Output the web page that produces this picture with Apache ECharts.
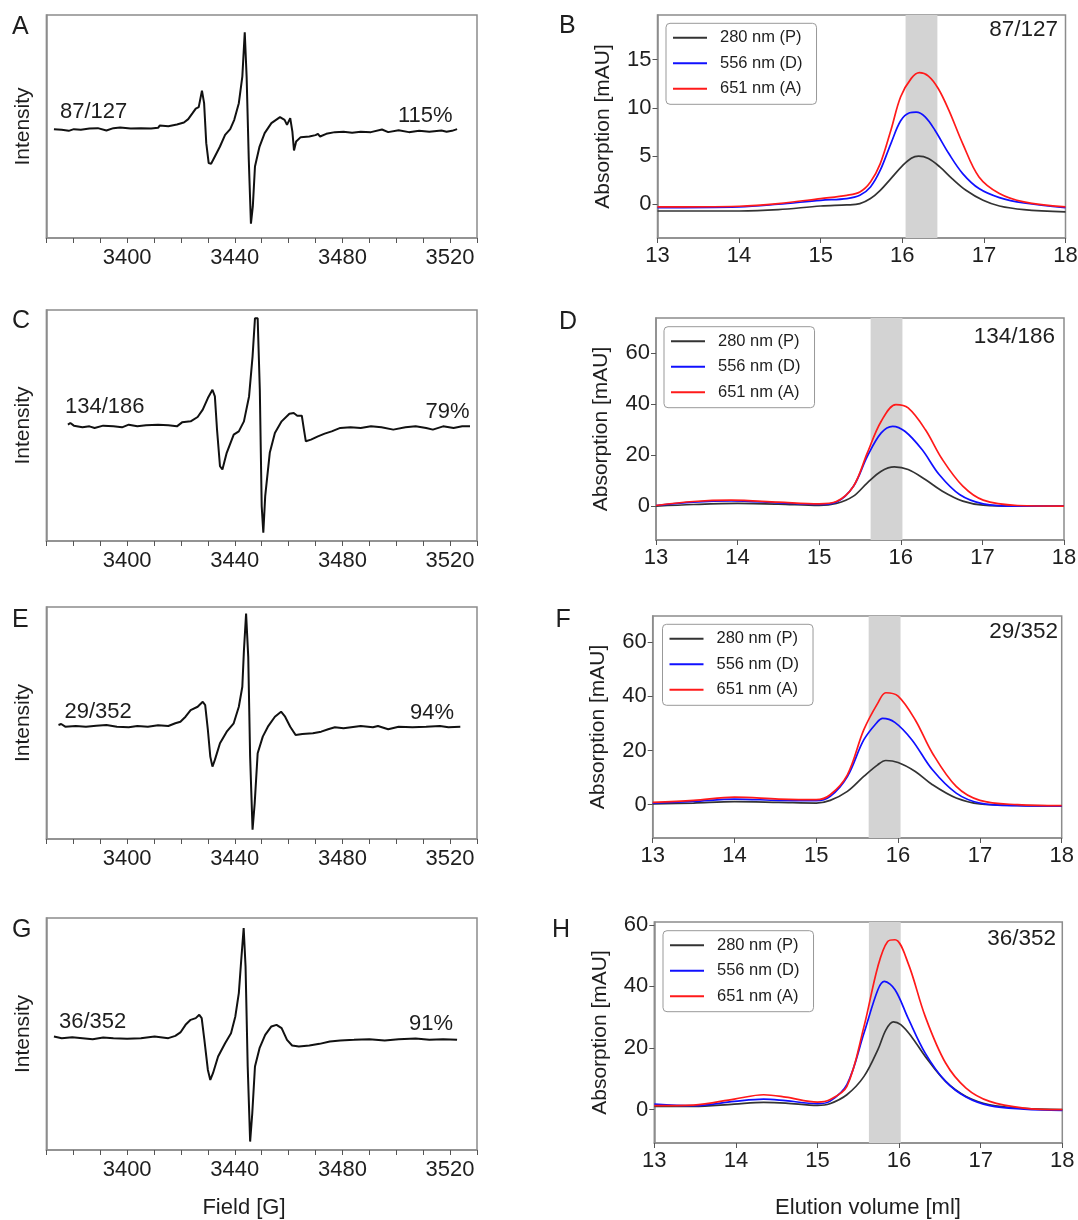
<!DOCTYPE html>
<html>
<head>
<meta charset="utf-8">
<script src="https://cdn.jsdelivr.net/npm/echarts@6/dist/echarts.min.js"></script>
<style>
  html, body { margin: 0; padding: 0; background: #fff; }
  #chart { width: 1078px; height: 1220px; }
</style>
</head>
<body>
<div id="chart"></div>
<script>
// ---- EPR spectra (field [G], intensity in arbitrary units) ----
const eprA = [[3372.8,0.7],[3375.7,0],[3378.3,-1],[3380.2,0.7],[3382.8,0],[3386.0,1.3],[3389.1,1.7],[3392.3,-0.7],[3394.9,1.7],[3397.4,2.3],[3401.3,1.3],[3405.1,1.7],[3408.9,1.3],[3411.5,2],[3412.1,4.3],[3415.3,3.7],[3418.5,5.3],[3421.1,7.3],[3422.7,10.7],[3424.3,16.7],[3425.5,21.3],[3426.6,22.7],[3427.8,39.3],[3428.6,26.7],[3429.4,-13.3],[3430.3,-33.3],[3431.2,-34],[3432.6,-26.7],[3434.5,-16.7],[3436.4,-5],[3438.3,0.7],[3439.8,10],[3441.5,26.7],[3442.8,53.3],[3443.7,97.7],[3444.4,53.3],[3445.2,-30],[3446.0,-94],[3446.7,-76.7],[3447.5,-36.7],[3449.2,-16.7],[3451.1,-3.3],[3453.6,6.7],[3456.8,12.7],[3458.5,10],[3459.4,5],[3460.6,11.7],[3461.4,-1.7],[3462.0,-20.7],[3462.8,-11.7],[3464.5,-7.3],[3467.7,-6.7],[3470.0,-5.3],[3470.9,-4],[3471.7,-6.7],[3474.0,-4],[3477.2,-2.3],[3480.4,-2],[3483.6,-3],[3486.8,-2],[3490.6,-2.3],[3494.7,0.3],[3497.0,-2.3],[3500.9,-0.3],[3504.7,-2.3],[3508.5,-1],[3512.3,-2],[3516.8,-0.7],[3518.7,-2],[3520.7,-1],[3522.6,0.7]];
const eprC = [[3378.0,1],[3378.9,2.7],[3380.2,0],[3383.4,-1.7],[3386.0,-0.7],[3387.9,-2.3],[3391.1,0],[3394.9,-0.7],[3398.1,-1.7],[3400.6,1],[3403.8,-0.7],[3407.0,0.3],[3411.5,1],[3415.3,0.3],[3418.5,-0.7],[3420.4,3.3],[3423.6,4.3],[3426.2,8.7],[3428.1,16],[3430.0,27.7],[3431.7,36],[3432.6,29.3],[3433.4,-4],[3434.5,-40.7],[3435.4,-44],[3437.0,-27.3],[3439.6,-9],[3441.5,-5.7],[3443.4,4.3],[3445.3,29.3],[3446.6,69.3],[3447.5,107.7],[3448.5,107.7],[3449.3,36],[3450.0,-80.7],[3450.6,-107.3],[3451.3,-70.7],[3453.0,-27.3],[3454.9,-7.3],[3457.4,4.3],[3460.3,12],[3461.9,12.7],[3463.2,10],[3464.9,10],[3465.7,-4],[3466.4,-15.7],[3468.3,-14],[3470.9,-10.7],[3473.4,-8],[3476.0,-5.7],[3479.2,-2.3],[3483.0,-1.7],[3486.8,-2.3],[3490.6,-0.7],[3494.5,-1.7],[3498.9,-4],[3503.4,-1.7],[3507.2,-0.7],[3511.1,-2.3],[3513.6,-4],[3517.4,-0.7],[3521.3,-2.3],[3524.5,-0.7],[3527.4,-0.7]];
const eprE = [[3374.5,1],[3375.5,2],[3377.0,-0.7],[3380.9,0],[3384.7,-0.7],[3388.5,0.3],[3392.3,1],[3396.2,-0.7],[3400.6,-1.3],[3403.8,0],[3407.7,-0.7],[3411.5,0.7],[3415.3,0],[3417.9,2.7],[3419.8,4.3],[3421.7,9.3],[3423.6,16],[3426.2,19.3],[3428.1,24.3],[3429.0,21],[3430.0,-4],[3430.9,-30.7],[3431.7,-40.7],[3432.6,-34],[3434.5,-17.3],[3437.0,-5.7],[3439.6,2.7],[3441.5,19.3],[3442.8,39.3],[3443.4,76],[3444.2,112.7],[3445.0,69.3],[3445.7,-30.7],[3446.6,-104],[3447.4,-77.3],[3448.5,-27.3],[3450.4,-10.7],[3452.3,-0.7],[3454.9,9.3],[3457.2,14.3],[3458.7,9.3],[3460.6,-0.7],[3462.6,-9],[3465.1,-8],[3469.0,-7.3],[3472.1,-5.7],[3474.7,-3.3],[3477.2,-1.3],[3480.4,-2.3],[3486.8,0],[3491.3,-1.3],[3493.2,0],[3497.0,-3.3],[3500.9,-0.7],[3506.0,-1.3],[3511.1,-0.7],[3516.2,0],[3519.4,-1.3],[3523.8,-0.7]];
const eprG = [[3372.8,1.7],[3375.7,0],[3379.6,1],[3383.4,0],[3387.2,-1],[3391.1,0.7],[3394.9,0],[3400.0,-0.7],[3405.1,0],[3410.2,1.7],[3415.3,0],[3417.9,2.3],[3419.8,5.7],[3421.7,13.3],[3423.6,18.3],[3425.5,20],[3426.8,23.3],[3427.7,20],[3428.7,-1.7],[3430.0,-31.7],[3430.9,-41.7],[3431.9,-35],[3433.8,-18.3],[3436.4,-5],[3438.6,5],[3440.2,21.7],[3441.5,45],[3442.4,78.3],[3443.3,110],[3444.0,71.7],[3444.8,-28.3],[3445.7,-103.3],[3446.5,-75],[3447.5,-28.3],[3449.2,-10],[3451.3,3.3],[3453.6,11.7],[3455.5,13.3],[3457.4,10],[3459.4,-1.7],[3461.3,-7.3],[3463.8,-8.3],[3467.7,-7.3],[3471.5,-5.7],[3475.3,-3.3],[3479.2,-2.3],[3484.3,-1.7],[3490.0,-1],[3495.7,-2.3],[3500.9,-1],[3507.2,-0.3],[3512.3,-1.7],[3517.4,-1],[3522.6,-1.7]];
const eprSamples = ['87/127', '134/186', '29/352', '36/352'];
const eprPercents = ['115%', '79%', '94%', '91%'];
const fieldTicks = [3370, 3380, 3390, 3400, 3410, 3420, 3430, 3440, 3450, 3460, 3470, 3480, 3490, 3500, 3510, 3520, 3530];
const fieldLabels = [3400, 3440, 3480, 3520];

// ---- SEC chromatograms (elution volume [ml], absorption [mAU]) ----
const secB280 = [[13.0,-0.73],[14.0,-0.73],[14.48,-0.59],[15.0,-0.21],[15.32,-0.1],[15.48,0.03],[15.61,0.56],[15.73,1.42],[15.86,2.64],[16.0,3.96],[16.11,4.76],[16.2,4.97],[16.32,4.72],[16.46,3.85],[16.61,2.64],[16.78,1.42],[16.99,0.38],[17.19,-0.21],[17.49,-0.59],[18.0,-0.83]];
const secB556 = [[13.0,-0.38],[14.0,-0.31],[14.48,-0.03],[15.0,0.38],[15.32,0.56],[15.48,0.9],[15.61,1.77],[15.73,3.51],[15.86,6.28],[15.98,8.65],[16.09,9.48],[16.17,9.55],[16.28,9.06],[16.4,7.67],[16.57,5.24],[16.74,3.16],[16.94,1.6],[17.19,0.66],[17.49,0.1],[18.0,-0.38]];
const secB651 = [[13.0,-0.31],[14.0,-0.24],[14.48,0.03],[15.0,0.56],[15.32,0.9],[15.48,1.25],[15.61,2.29],[15.73,4.2],[15.86,7.67],[15.98,11.15],[16.11,13.06],[16.21,13.65],[16.32,13.3],[16.44,12.01],[16.57,9.76],[16.74,6.28],[16.94,2.81],[17.19,1.08],[17.49,0.21],[18.0,-0.31]];
const secD280 = [[13.0,0],[13.46,0.65],[14.0,1.05],[14.5,0.78],[15.0,0.26],[15.21,1.05],[15.42,3.92],[15.59,9.15],[15.76,13.73],[15.92,15.42],[16.09,14.38],[16.3,10.46],[16.51,5.88],[16.76,1.96],[17.01,0.39],[17.43,0],[18.0,0]];
const secD556 = [[13.0,0.26],[13.46,1.57],[13.92,2.09],[14.5,1.31],[15.0,0.65],[15.21,1.57],[15.42,7.84],[15.59,19.6],[15.76,28.76],[15.9,31.37],[16.05,29.41],[16.26,22.22],[16.47,12.42],[16.72,4.58],[17.01,0.92],[17.43,0],[18.0,0]];
const secD651 = [[13.0,0.26],[13.46,1.83],[13.92,2.35],[14.5,1.57],[15.0,0.92],[15.21,1.83],[15.42,7.84],[15.59,20.92],[15.76,33.33],[15.94,39.87],[16.09,38.56],[16.3,30.07],[16.51,18.3],[16.76,7.84],[17.01,2.35],[17.43,0.26],[18.0,0]];
const secF280 = [[13.0,0.25],[13.5,0.61],[14.0,1.1],[14.54,0.86],[15.0,0.61],[15.17,1.6],[15.38,4.91],[15.58,10.43],[15.75,14.72],[15.85,16.32],[16.0,15.58],[16.21,12.27],[16.42,7.36],[16.71,2.45],[17.0,0.25],[17.46,-0.25],[18.0,-0.49]];
const secF556 = [[13.0,0.61],[13.5,1.23],[14.0,2.09],[14.54,1.6],[15.0,1.47],[15.17,3.07],[15.38,10.43],[15.58,23.93],[15.75,30.67],[15.81,31.9],[15.96,30.43],[16.17,23.93],[16.42,12.88],[16.71,4.29],[17.0,0.61],[17.46,-0.37],[18.0,-0.49]];
const secF651 = [[13.0,0.86],[13.5,1.6],[14.0,2.82],[14.54,2.09],[15.0,1.84],[15.17,3.68],[15.38,11.04],[15.58,27.61],[15.75,37.42],[15.85,41.35],[16.0,40.12],[16.21,31.29],[16.42,19.02],[16.71,6.75],[17.0,1.6],[17.46,0],[18.0,-0.37]];
const secH280 = [[13.0,1.08],[13.48,1.08],[13.98,1.84],[14.34,2.38],[14.61,2.16],[15.0,1.41],[15.15,1.95],[15.36,4.86],[15.57,10.81],[15.74,19.5],[15.84,26.0],[15.93,28.5],[16.02,27.6],[16.15,23.78],[16.32,17.3],[16.57,9.19],[16.82,4.32],[17.11,1.62],[17.53,0.43],[18.0,0]];
const secH556 = [[13.0,1.84],[13.48,1.3],[13.98,2.7],[14.34,3.46],[14.61,2.92],[15.0,1.95],[15.15,2.7],[15.36,8.11],[15.57,24.86],[15.74,38.92],[15.82,41.62],[15.95,38.92],[16.11,29.73],[16.32,18.38],[16.57,9.19],[16.82,4.11],[17.11,1.3],[17.53,0.22],[18.0,-0.22]];
const secH651 = [[13.0,1.3],[13.48,1.51],[13.98,3.46],[14.34,4.86],[14.61,4.11],[15.0,2.49],[15.15,3.24],[15.36,7.57],[15.57,27.03],[15.74,46.49],[15.86,54.59],[15.95,55.14],[16.11,47.57],[16.32,30.27],[16.57,15.14],[16.82,7.03],[17.11,2.7],[17.53,0.54],[18.0,0]];
const secBands = [[16.04, 16.43], [15.63, 16.02], [15.64, 16.03], [15.63, 16.02]];
const secSamples = ['87/127', '134/186', '29/352', '36/352'];
const wavelengths = ['280 nm (P)', '556 nm (D)', '651 nm (A)'];
const secYTicksB = [0, 5, 10, 15];
const secYTicks = [0, 20, 40, 60];

// ---- layout ----
const FONT = '"Liberation Sans", Arial, sans-serif';
const FRAME = '#8c8c8c';
const INK = '#1e1e1e';
const lineColors = ['#333333', '#1010ff', '#ff1a1a'];

const eprData = [eprA, eprC, eprE, eprG];
const eprBoxes = [[46.4, 15, 430.6, 223], [46.4, 310, 430.6, 231], [46.4, 607, 430.6, 232], [46.4, 918, 430.6, 232]];
const eprYRange = [[-108.3, 115], [-115.7, 116], [-113.3, 119.3], [-111.7, 120]];
const eprSampleXY = [[60, 111.5], [65, 406.5], [64.5, 711.5], [59, 1021.5]];
const eprPctXY = [[398, 116], [425.5, 411.5], [410, 712.5], [409, 1023.5]];

const secData = [[secB280, secB556, secB651], [secD280, secD556, secD651], [secF280, secF556, secF651], [secH280, secH556, secH651]];
const secBoxes = [[657.5, 15, 408, 223], [656, 318, 408, 222], [652.7, 616, 409, 222], [654.3, 922, 408, 221]];
const secYRange = [[-3.54, 19.65], [-13.3, 73.9], [-12.3, 69.7], [-10.8, 60.9]];
const secLegendXY = [[666, 23.3], [664, 326.7], [662.5, 624.3], [663, 930.7]];
const secSampleXY = [[1058, 30], [1055, 336.5], [1058, 631.5], [1056, 938.5]];

const letters = [['A', 12, 27.5], ['B', 559, 26.5], ['C', 12, 321], ['D', 559, 322.5], ['E', 12, 620], ['F', 555.5, 620], ['G', 12, 930], ['H', 552, 930]];

const grid = [], xAxis = [], yAxis = [], series = [], legend = [], graphic = [];

function txt(text, x, y, size, align) {
    graphic.push({
        type: 'text', x: x, y: y, silent: true,
        style: { text: text, fontSize: size, fontFamily: FONT, fill: INK, align: align || 'left', verticalAlign: 'middle' }
    });
}

eprData.forEach((d, i) => {
    let b = eprBoxes[i];
    grid.push({ left: b[0], top: b[1], width: b[2], height: b[3], show: true, borderColor: FRAME, borderWidth: 1.5, outerBoundsMode: 'none' });
    xAxis.push({
        type: 'value', gridIndex: i, min: 3370, max: 3530,
        axisLine: { onZero: false, lineStyle: { color: FRAME, width: 1.5 } },
        axisTick: { show: true, customValues: fieldTicks, length: 5, lineStyle: { color: '#555' } },
        axisLabel: { customValues: fieldLabels, formatter: v => String(v), fontSize: 22, margin: 9, color: INK, fontFamily: FONT },
        splitLine: { show: false }
    });
    yAxis.push({
        type: 'value', gridIndex: i, min: eprYRange[i][0], max: eprYRange[i][1],
        axisLine: { show: true, onZero: false, lineStyle: { color: FRAME, width: 1.5 } },
        axisTick: { show: false }, axisLabel: { show: false }, splitLine: { show: false },
        name: 'Intensity', nameLocation: 'middle', nameGap: 12.5,
        nameTextStyle: { fontSize: 21, color: INK, fontFamily: FONT }
    });
    series.push({
        type: 'line', xAxisIndex: i, yAxisIndex: i, data: d, symbol: 'none', silent: true,
        lineStyle: { color: '#111', width: 2 }
    });
    txt(eprSamples[i], eprSampleXY[i][0], eprSampleXY[i][1], 22);
    txt(eprPercents[i], eprPctXY[i][0], eprPctXY[i][1], 22);
});

secData.forEach((curves, k) => {
    let i = k + 4;
    let b = secBoxes[k];
    grid.push({ left: b[0], top: b[1], width: b[2], height: b[3], show: true, borderColor: FRAME, borderWidth: 1.5, outerBoundsMode: 'none' });
    xAxis.push({
        type: 'value', gridIndex: i, min: 13, max: 18, interval: 1,
        axisLine: { onZero: false, lineStyle: { color: FRAME, width: 1.5 } },
        axisTick: { show: true, length: 5, lineStyle: { color: '#555' } },
        axisLabel: { fontSize: 22, margin: 7, color: INK, fontFamily: FONT },
        splitLine: { show: false }
    });
    let yt = k === 0 ? secYTicksB : secYTicks;
    yAxis.push({
        type: 'value', gridIndex: i, min: secYRange[k][0], max: secYRange[k][1],
        axisLine: { show: true, onZero: false, lineStyle: { color: FRAME, width: 1.5 } },
        axisTick: { show: true, customValues: yt, length: 5, lineStyle: { color: '#555' } },
        axisLabel: { customValues: yt, fontSize: 22, margin: 6, color: INK, fontFamily: FONT },
        splitLine: { show: false },
        name: 'Absorption [mAU]', nameLocation: 'middle', nameGap: 44,
        nameTextStyle: { fontSize: 21, color: INK, fontFamily: FONT }
    });
    // shaded fraction band
    series.push({
        type: 'line', xAxisIndex: i, yAxisIndex: i, data: [], silent: true, z: 1,
        markArea: { silent: true, itemStyle: { color: '#d3d3d3' }, data: [[{ xAxis: secBands[k][0] }, { xAxis: secBands[k][1] }]] }
    });
    curves.forEach((c, j) => {
        series.push({
            type: 'line', name: wavelengths[j], xAxisIndex: i, yAxisIndex: i, data: c,
            symbol: 'none', smooth: 0.35, silent: true, z: 3,
            itemStyle: { color: lineColors[j] },
            lineStyle: { color: lineColors[j], width: 1.7 }
        });
    });
    legend.push({
        orient: 'vertical', left: secLegendXY[k][0], top: secLegendXY[k][1],
        data: wavelengths, icon: 'rect', itemWidth: 34, itemHeight: 2, itemGap: 8.5,
        selectedMode: false, backgroundColor: '#fff', borderColor: '#999', borderWidth: 1, borderRadius: 4,
        padding: [6, 14, 7, 7],
        textStyle: { fontSize: 16.5, lineHeight: 16, color: INK, fontFamily: FONT, padding: [0, 0, 0, 8] }
    });
    txt(secSamples[k], secSampleXY[k][0], secSampleXY[k][1], 22.5, 'right');
});

letters.forEach(l => txt(l[0], l[1], l[2], 25));
txt('Field [G]', 244, 1208, 22, 'center');
txt('Elution volume [ml]', 868, 1207.5, 22, 'center');

let myChart = echarts.init(document.getElementById('chart'));
myChart.setOption({
    animation: false,
    backgroundColor: '#fff',
    grid: grid,
    xAxis: xAxis,
    yAxis: yAxis,
    legend: legend,
    series: series,
    graphic: graphic
});
</script>
</body>
</html>
